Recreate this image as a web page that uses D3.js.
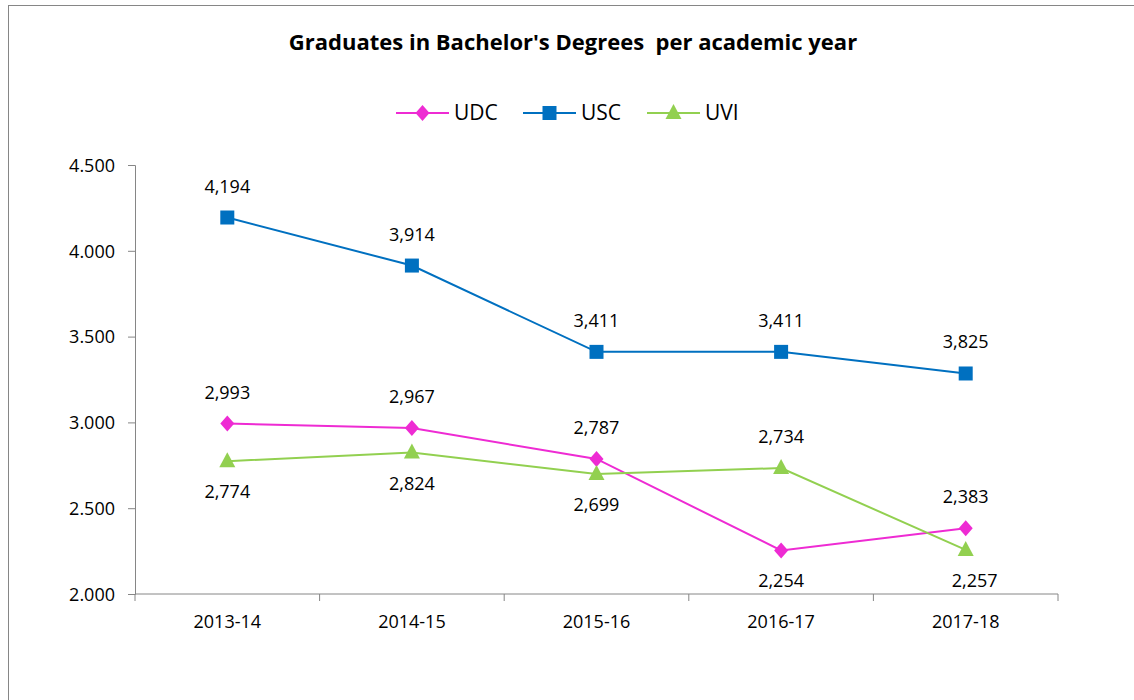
<!DOCTYPE html>
<html>
<head>
<meta charset="utf-8">
<script src="https://cdn.jsdelivr.net/npm/d3@7"></script>
<style>
  body { margin: 0; background: #fff; }
  text { font-family: "Open Sans", "Noto Sans", sans-serif; fill: #000; }
</style>
</head>
<body>
<svg id="chart" width="1134" height="700"></svg>
<script>
// data
var years = ["2013-14", "2014-15", "2015-16", "2016-17", "2017-18"];
var udc = [2993, 2967, 2787, 2254, 2383];
var usc = [4194, 3914, 3411, 3411, 3285];
var uvi = [2774, 2824, 2699, 2734, 2257];
// printed labels (the last USC label reads 3,825 in the source)
var udc_labels = ["2,993", "2,967", "2,787", "2,254", "2,383"];
var usc_labels = ["4,194", "3,914", "3,411", "3,411", "3,825"];
var uvi_labels = ["2,774", "2,824", "2,699", "2,734", "2,257"];
var y_ticks = [2000, 2500, 3000, 3500, 4000, 4500];

var series = [
    { name: "UDC", values: udc, labels: udc_labels, color: "#ee2bd3", shape: "diamond" },
    { name: "USC", values: usc, labels: usc_labels, color: "#0070c0", shape: "square" },
    { name: "UVI", values: uvi, labels: uvi_labels, color: "#92d050", shape: "triangle" }
];

var svg = d3.select("#chart");
var margin = { left: 135, right: 1058, top: 165, bottom: 594 };

// frame
svg.append("rect")
    .attr("x", 8.5).attr("y", 5.5)
    .attr("width", 1140).attr("height", 720)
    .attr("fill", "none").attr("stroke", "#868686").attr("stroke-width", 1);

var x = d3.scaleBand().domain(years).range([margin.left, margin.right]);
var y = d3.scaleLinear().domain([2000, 4500]).range([margin.bottom, margin.top]);

// y axis
var yAxis = svg.append("g")
    .attr("transform", "translate(" + margin.left + ",0)")
    .call(d3.axisLeft(y).tickValues(y_ticks).tickSizeOuter(0).tickSize(7)
          .tickFormat(function(d) { return d3.format(",")(d).replace(",", "."); }));
yAxis.select(".domain").attr("stroke", "#868686");
yAxis.selectAll(".tick line").attr("stroke", "#868686");
yAxis.selectAll(".tick text")
    .attr("x", -20).attr("dy", "0.35em")
    .style("font-size", "18px").style("font-family", "'Open Sans', sans-serif");

// x axis with ticks between categories
var xAxis = svg.append("g").attr("transform", "translate(0," + margin.bottom + ")");
xAxis.append("line")
    .attr("x1", margin.left).attr("x2", margin.right)
    .attr("stroke", "#868686");
var bounds = years.map(function(d) { return x(d); }).concat([margin.right]);
xAxis.selectAll("line.tk").data(bounds).enter().append("line")
    .attr("class", "tk")
    .attr("x1", function(d) { return d; }).attr("x2", function(d) { return d; })
    .attr("y1", 0).attr("y2", 7)
    .attr("stroke", "#868686");
xAxis.selectAll("text").data(years).enter().append("text")
    .attr("x", function(d) { return x(d) + x.bandwidth() / 2; })
    .attr("y", 34)
    .attr("text-anchor", "middle")
    .style("font-size", "18px")
    .text(function(d) { return d; });

function cx(i) { return x(years[i]) + x.bandwidth() / 2; }

function marker(sel, shape, color) {
    if (shape === "square")
        sel.append("rect").attr("x", -7).attr("y", -7).attr("width", 14).attr("height", 14)
           .attr("fill", color);
    else if (shape === "diamond")
        sel.append("path").attr("d", "M0,-8L7,0L0,8L-7,0Z").attr("fill", color);
    else
        sel.append("path").attr("d", "M0,-9L8,6L-8,6Z").attr("fill", color);
}

var line = d3.line()
    .x(function(d, i) { return cx(i); })
    .y(function(d) { return y(d); });

// which labels sit under the point
var below = { UDC: [3], USC: [], UVI: [0, 1, 2, 4] };

series.forEach(function(s) {
    svg.append("path")
        .datum(s.values)
        .attr("d", line)
        .attr("fill", "none")
        .attr("stroke", s.color)
        .attr("stroke-width", 2);

    s.values.forEach(function(v, i) {
        var g = svg.append("g").attr("transform", "translate(" + cx(i) + "," + y(v) + ")");
        marker(g, s.shape, s.color);
    });

    svg.selectAll("text.lbl-" + s.name)
        .data(s.values).enter().append("text")
        .attr("class", "lbl-" + s.name)
        .attr("x", function(d, i) {
            return cx(i) + (s.name === "UVI" && i === 4 ? 9 : 0);
        })
        .attr("y", function(d, i) {
            return below[s.name].indexOf(i) >= 0 ? y(d) + 37 : y(d) - 25;
        })
        .attr("text-anchor", "middle")
        .style("font-size", "18px")
        .text(function(d, i) { return s.labels[i]; });
});

// title
svg.append("text")
    .attr("x", 573).attr("y", 50)
    .attr("text-anchor", "middle")
    .style("font-size", "22px").style("font-weight", "bold")
    .style("font-family", "'Open Sans', sans-serif")
    .style("white-space", "pre")
    .attr("fill", "#262626")
    .text("Graduates in Bachelor's Degrees  per academic year");

// legend
var legendX = [396, 523, 647];
var leg = svg.append("g");
series.forEach(function(s, i) {
    var g = leg.append("g").attr("transform", "translate(" + legendX[i] + ",113)");
    g.append("line").attr("x1", 0).attr("x2", 53)
        .attr("stroke", s.color).attr("stroke-width", 2);
    var m = g.append("g").attr("transform", "translate(26.5,0)");
    marker(m, s.shape, s.color);
    g.append("text").attr("x", 58).attr("y", 0).attr("dy", "0.35em")
        .style("font-size", "21px")
        .text(s.name);
});
</script>
</body>
</html>
